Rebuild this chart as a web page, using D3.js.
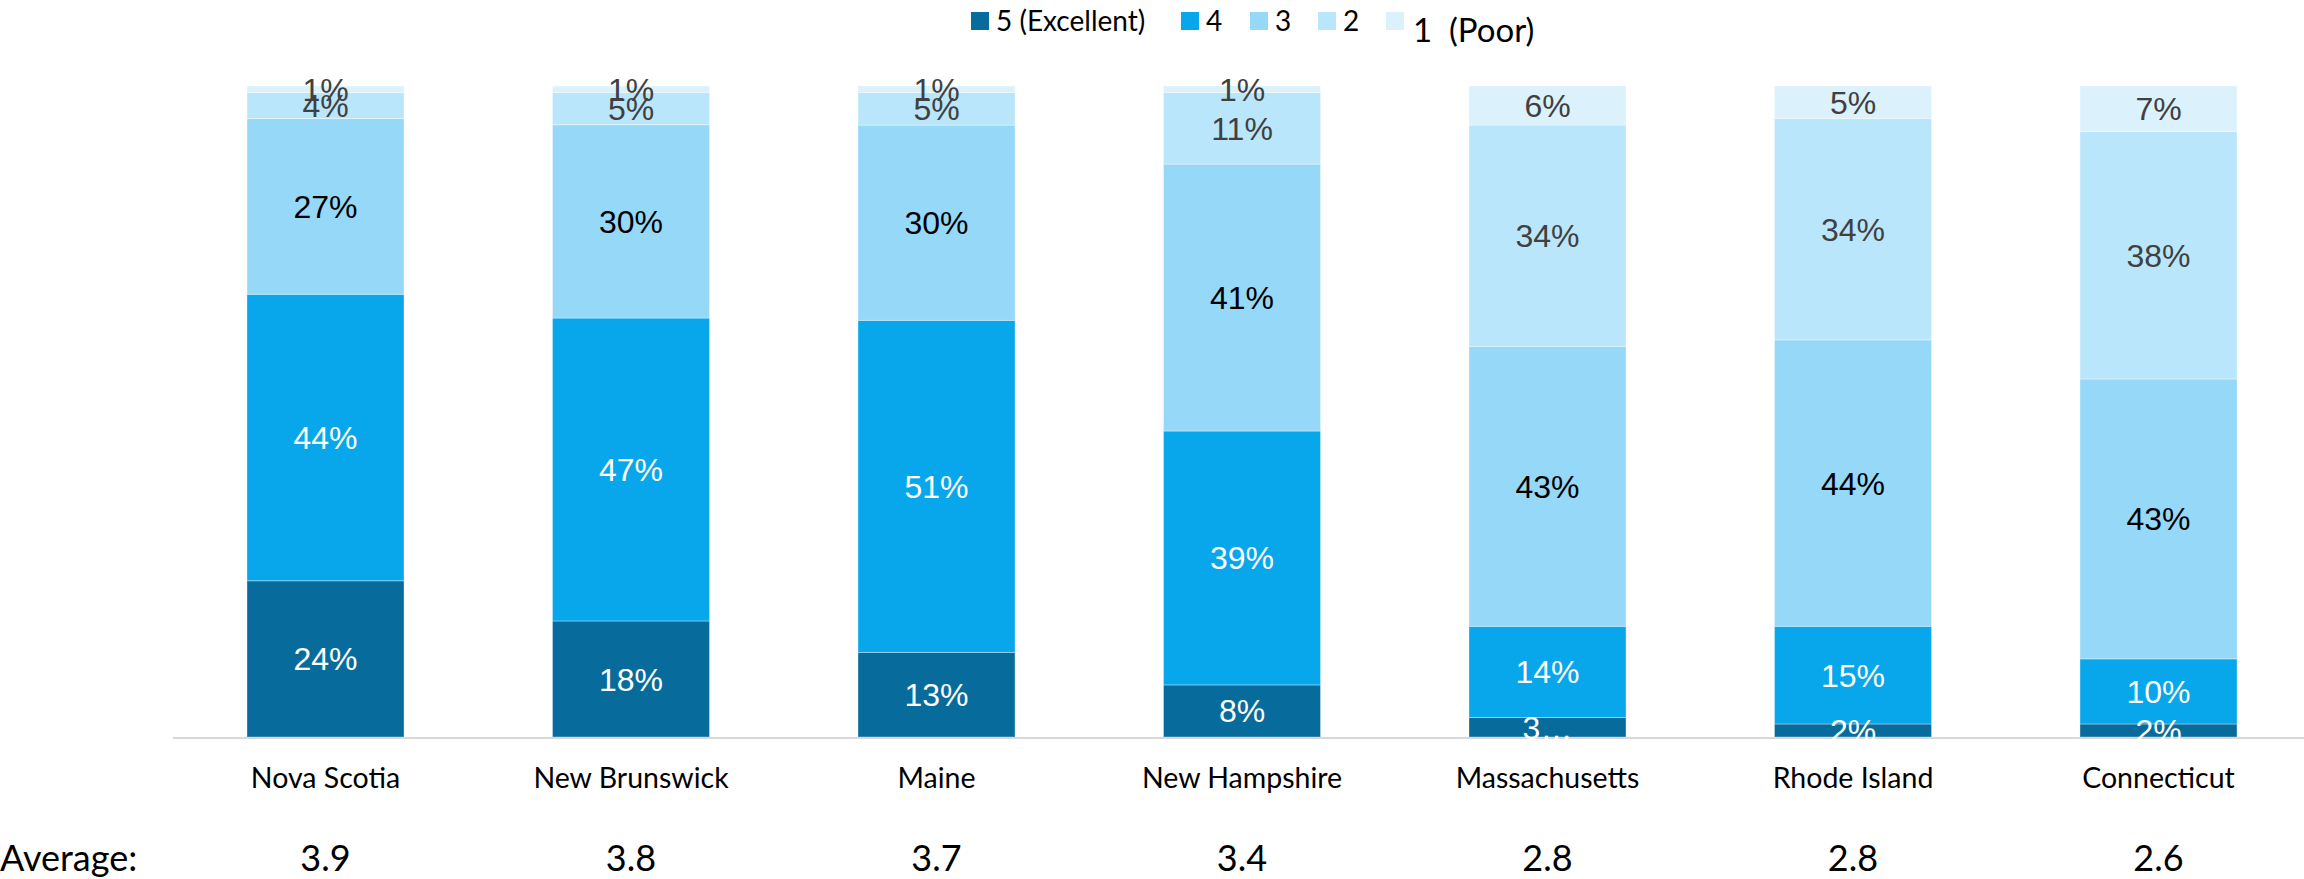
<!DOCTYPE html>
<html>
<head>
<meta charset="utf-8">
<script src="https://cdn.jsdelivr.net/npm/d3@7"></script>
<style>
  html, body { margin: 0; padding: 0; background: #ffffff; }
  svg { display: block; }
</style>
</head>
<body>
<svg id="chart" width="2304" height="879"></svg>
<script>
// ---------------- DATA ----------------
const categories = ["Nova Scotia", "New Brunswick", "Maine", "New Hampshire", "Massachusetts", "Rhode Island", "Connecticut"];
const seriesKeys = ["5", "4", "3", "2", "1"];
const seriesNames = ["5 (Excellent)", "4", "3", "2", "1  (Poor)"];
const rating5 = [24, 18, 13, 8, 3, 2, 2];
const rating4 = [44, 47, 51, 39, 14, 15, 10];
const rating3 = [27, 30, 30, 41, 43, 44, 43];
const rating2 = [4, 5, 5, 11, 34, 34, 38];
const rating1 = [1, 1, 1, 1, 6, 5, 7];
const averages = ["3.9", "3.8", "3.7", "3.4", "2.8", "2.8", "2.6"];
const truncatedLabels = { "Massachusetts|5": "3…" };

const colors = ["#076b9c", "#08a6ea", "#96d8f8", "#bae6fc", "#dbf1fc"];
const labelColors = ["#ffffff", "#ffffff", "#000000", "#404040", "#404040"];

// ---------------- BUILD ----------------
const seriesValues = [rating5, rating4, rating3, rating2, rating1];
const table = categories.map((c, i) => {
  const row = { category: c };
  seriesKeys.forEach((k, j) => { row[k] = seriesValues[j][i]; });
  return row;
});

const stack = d3.stack().keys(seriesKeys).offset(d3.stackOffsetExpand);
const stacked = stack(table);

const svg = d3.select("#chart");

const x = d3.scaleBand()
  .domain(categories)
  .range([172.75, 2311.25])
  .paddingInner(0.486)
  .paddingOuter(0.243);

const y = d3.scaleLinear().domain([0, 1]).range([737, 86]);

const color = d3.scaleOrdinal().domain(seriesKeys).range(colors);
const lblColor = d3.scaleOrdinal().domain(seriesKeys).range(labelColors);

// bars
const layers = svg.append("g").selectAll("g")
  .data(stacked)
  .join("g")
  .attr("fill", d => color(d.key));

layers.selectAll("rect")
  .data(d => d.map(p => ({ p, key: d.key })))
  .join("rect")
  .attr("x", d => x(d.p.data.category))
  .attr("width", x.bandwidth())
  .attr("y", d => y(d.p[1]))
  .attr("height", d => Math.max(0, y(d.p[0]) - y(d.p[1])))
  .attr("stroke", "#ffffff")
  .attr("stroke-opacity", 0.35)
  .attr("stroke-width", 1);

// axis baseline
svg.append("line")
  .attr("x1", x.range()[0])
  .attr("x2", 2304)
  .attr("y1", 738)
  .attr("y2", 738)
  .attr("stroke", "#d9d9d9")
  .attr("stroke-width", 2);

// data labels
const lbl = svg.append("g")
  .attr("font-family", "'Liberation Sans', Arial, sans-serif")
  .attr("font-size", 32)
  .attr("text-anchor", "middle");

stacked.forEach(layer => {
  layer.forEach(p => {
    const cat = p.data.category;
    const val = p.data[layer.key];
    const txt = truncatedLabels[cat + "|" + layer.key] || (val + "%");
    lbl.append("text")
      .attr("x", x(cat) + x.bandwidth() / 2)
      .attr("y", (y(p[0]) + y(p[1])) / 2)
      .attr("dy", "0.36em")
      .attr("fill", lblColor(layer.key))
      .text(txt);
  });
});

// category axis labels
const xAxis = d3.axisBottom(x).tickSize(0).tickPadding(0);
const gx = svg.append("g")
  .attr("transform", "translate(0,788)")
  .call(xAxis);
gx.select(".domain").remove();
gx.selectAll("text")
  .attr("y", 0)
  .attr("dy", 0)
  .attr("font-family", "Lato, 'Open Sans', sans-serif")
  .attr("font-size", 28.5)
  .attr("fill", "#000000");

// average row
const avg = svg.append("g")
  .attr("font-family", "Lato, 'Open Sans', sans-serif")
  .attr("font-size", 36)
  .attr("fill", "#000000");
avg.append("text")
  .attr("x", 0)
  .attr("y", 871)
  .text("Average:");
avg.selectAll("text.avg")
  .data(averages)
  .join("text")
  .attr("class", "avg")
  .attr("x", (d, i) => x(categories[i]) + x.bandwidth() / 2)
  .attr("y", 871)
  .attr("text-anchor", "middle")
  .text(d => d);

// legend
const legendX = [971, 1181, 1250, 1318, 1386];
const legend = svg.append("g")
  .attr("font-family", "Lato, 'Open Sans', sans-serif")
  .attr("fill", "#000000");
seriesKeys.forEach((k, i) => {
  const g = legend.append("g").attr("transform", `translate(${legendX[i]},0)`);
  g.append("rect")
    .attr("x", 0).attr("y", 12)
    .attr("width", 18).attr("height", 18)
    .attr("fill", color(k));
  const last = i === seriesKeys.length - 1;
  g.append("text")
    .attr("x", last ? 27 : 25)
    .attr("y", last ? 42 : 31)
    .attr("font-size", last ? 33 : 28)
    .style("white-space", "pre")
    .text(seriesNames[i]);
});
</script>
</body>
</html>
